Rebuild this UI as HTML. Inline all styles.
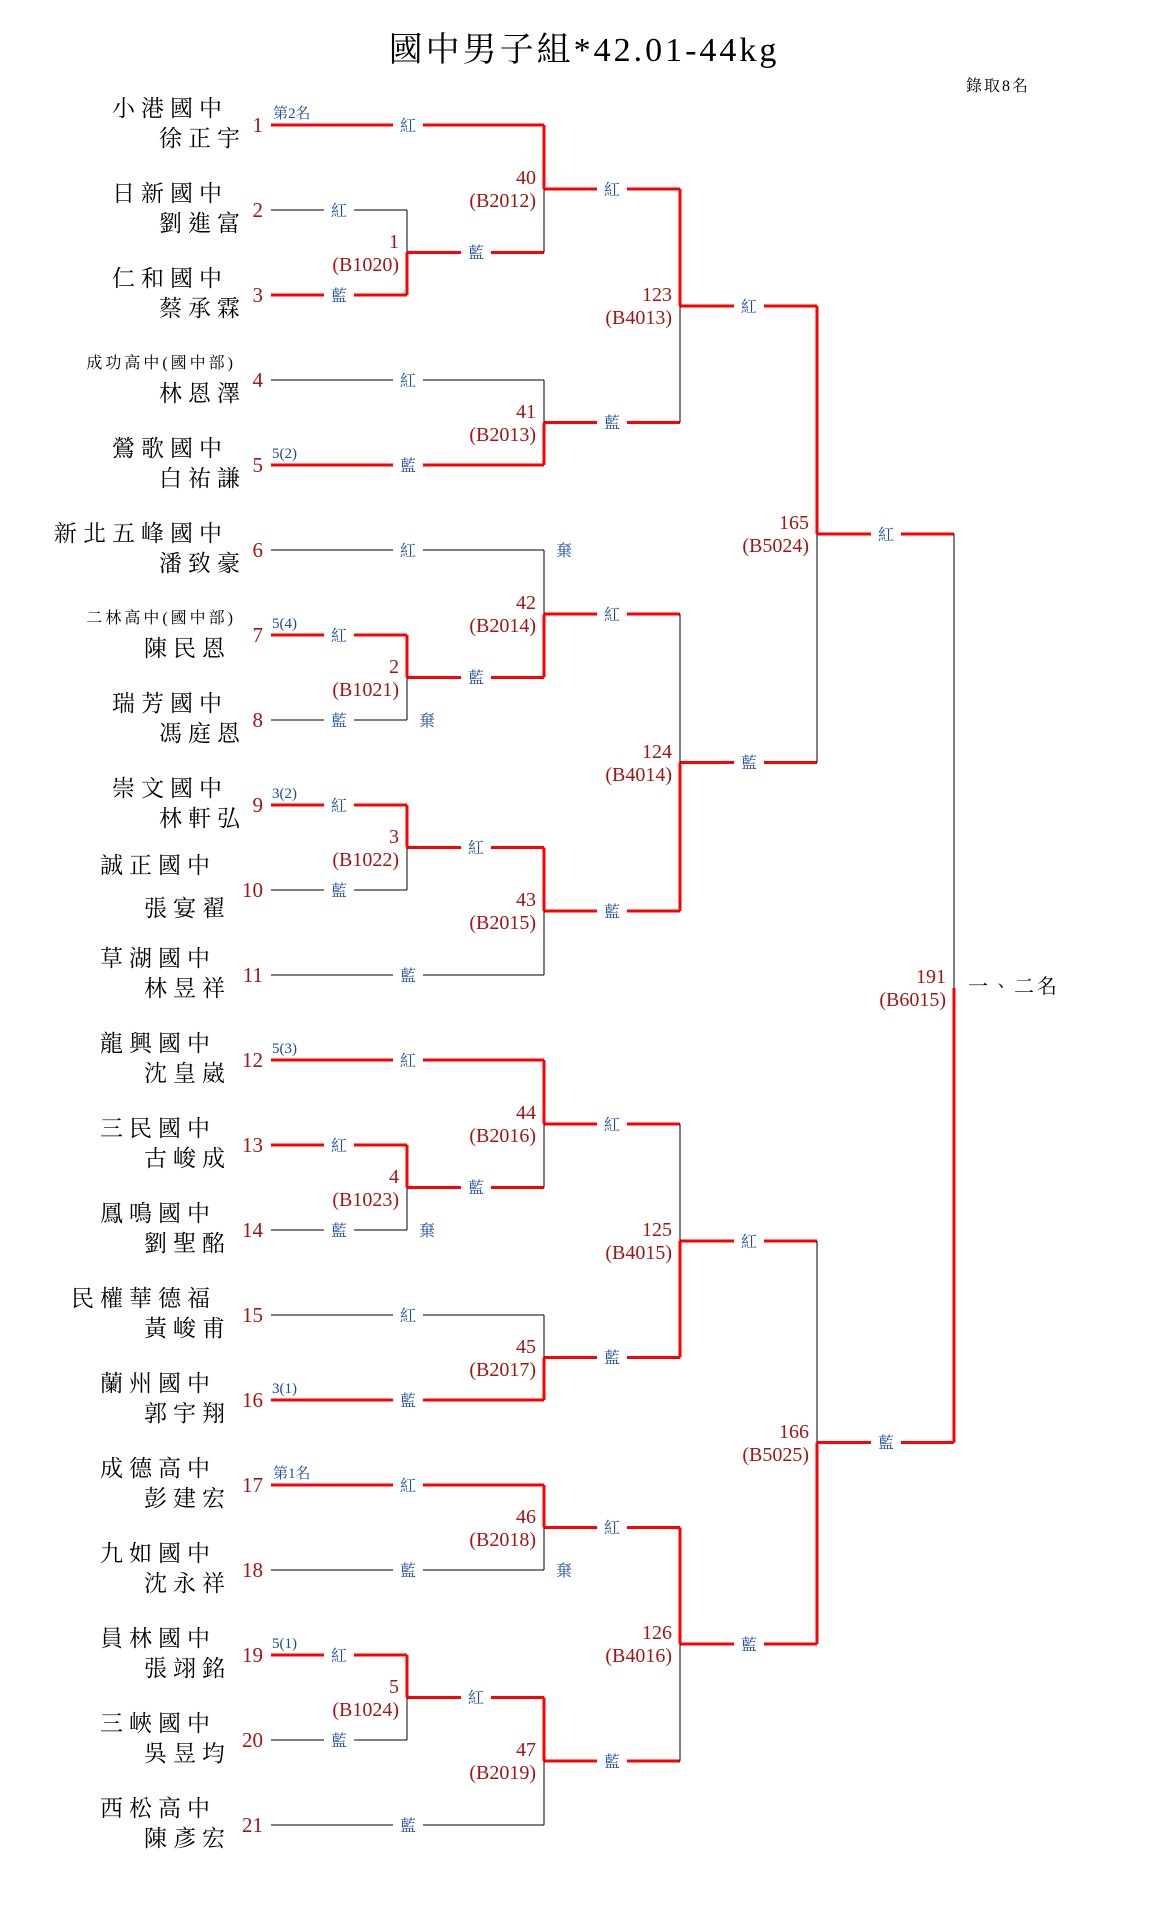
<!DOCTYPE html>
<html><head><meta charset="utf-8"><style>
html,body{margin:0;padding:0;background:#fff;}
svg{display:block;}
.sc{font-family:"Liberation Serif","Noto Serif CJK TC","Noto Serif CJK SC",serif;font-size:23px;letter-spacing:6px;fill:#000;text-anchor:end;}
.ss{font-family:"Liberation Serif","Noto Serif CJK TC","Noto Serif CJK SC",serif;font-size:16px;letter-spacing:3px;fill:#000;text-anchor:end;}
.nm{font-family:"Liberation Serif",serif;font-size:21px;fill:#a31515;text-anchor:end;}
.mn{font-family:"Liberation Serif",serif;font-size:20px;fill:#a31515;text-anchor:end;}
.lb{font-family:"Liberation Serif","Noto Serif CJK TC","Noto Serif CJK SC",serif;font-size:16px;fill:#1a49a8;text-anchor:middle;}
.sd{font-family:"Liberation Serif","Noto Serif CJK TC","Noto Serif CJK SC",serif;font-size:15px;fill:#1a49a8;}
.r{stroke:#ff0000;stroke-width:3;fill:none;}
.k{stroke:#000;stroke-width:1;fill:none;}
</style></head><body>
<svg width="1160" height="1910" viewBox="0 0 1160 1910" xmlns="http://www.w3.org/2000/svg">
<text x="584" y="61" text-anchor="middle" font-family="Liberation Serif,Noto Serif CJK TC,serif" font-size="34" letter-spacing="3" fill="#000">國中男子組*42.01-44kg</text>
<text x="1030" y="91" text-anchor="end" font-family="Liberation Serif,Noto Serif CJK TC,serif" font-size="16" letter-spacing="2" fill="#000">錄取8名</text>

<g>
<line class="r" x1="271" y1="125" x2="544" y2="125"/>
<line class="k" x1="271" y1="210" x2="407" y2="210"/>
<line class="r" x1="271" y1="295" x2="407" y2="295"/>
<line class="k" x1="271" y1="380" x2="544" y2="380"/>
<line class="r" x1="271" y1="465" x2="544" y2="465"/>
<line class="k" x1="271" y1="550" x2="544" y2="550"/>
<line class="r" x1="271" y1="635" x2="407" y2="635"/>
<line class="k" x1="271" y1="720" x2="407" y2="720"/>
<line class="r" x1="271" y1="805" x2="407" y2="805"/>
<line class="k" x1="271" y1="890" x2="407" y2="890"/>
<line class="k" x1="271" y1="975" x2="544" y2="975"/>
<line class="r" x1="271" y1="1060" x2="544" y2="1060"/>
<line class="r" x1="271" y1="1145" x2="407" y2="1145"/>
<line class="k" x1="271" y1="1230" x2="407" y2="1230"/>
<line class="k" x1="271" y1="1315" x2="544" y2="1315"/>
<line class="r" x1="271" y1="1400" x2="544" y2="1400"/>
<line class="r" x1="271" y1="1485" x2="544" y2="1485"/>
<line class="k" x1="271" y1="1570" x2="544" y2="1570"/>
<line class="r" x1="271" y1="1655" x2="407" y2="1655"/>
<line class="k" x1="271" y1="1740" x2="407" y2="1740"/>
<line class="k" x1="271" y1="1825" x2="544" y2="1825"/>
</g>
<g class="r">
<line x1="407" y1="252.5" x2="544" y2="252.5"/>
<line x1="407" y1="677.5" x2="544" y2="677.5"/>
<line x1="407" y1="847.5" x2="544" y2="847.5"/>
<line x1="407" y1="1187.5" x2="544" y2="1187.5"/>
<line x1="407" y1="1697.5" x2="544" y2="1697.5"/>
<line x1="544" y1="189" x2="680" y2="189"/>
<line x1="544" y1="422.5" x2="680" y2="422.5"/>
<line x1="544" y1="614" x2="680" y2="614"/>
<line x1="544" y1="911" x2="680" y2="911"/>
<line x1="544" y1="1124" x2="680" y2="1124"/>
<line x1="544" y1="1357.5" x2="680" y2="1357.5"/>
<line x1="544" y1="1527.5" x2="680" y2="1527.5"/>
<line x1="544" y1="1761" x2="680" y2="1761"/>
<line x1="680" y1="306" x2="817" y2="306"/>
<line x1="680" y1="762.5" x2="817" y2="762.5"/>
<line x1="680" y1="1241" x2="817" y2="1241"/>
<line x1="680" y1="1644" x2="817" y2="1644"/>
<line x1="817" y1="534" x2="954" y2="534"/>
<line x1="817" y1="1442.5" x2="954" y2="1442.5"/>
</g>
<g>
<line class="k" x1="407" y1="210" x2="407" y2="252.5"/><line class="r" x1="407" y1="252.5" x2="407" y2="295"/>
<line class="r" x1="407" y1="635" x2="407" y2="677.5"/><line class="k" x1="407" y1="677.5" x2="407" y2="720"/>
<line class="r" x1="407" y1="805" x2="407" y2="847.5"/><line class="k" x1="407" y1="847.5" x2="407" y2="890"/>
<line class="r" x1="407" y1="1145" x2="407" y2="1187.5"/><line class="k" x1="407" y1="1187.5" x2="407" y2="1230"/>
<line class="r" x1="407" y1="1655" x2="407" y2="1697.5"/><line class="k" x1="407" y1="1697.5" x2="407" y2="1740"/>

<line class="r" x1="544" y1="125" x2="544" y2="189"/><line class="k" x1="544" y1="189" x2="544" y2="252.5"/>
<line class="k" x1="544" y1="380" x2="544" y2="422.5"/><line class="r" x1="544" y1="422.5" x2="544" y2="465"/>
<line class="k" x1="544" y1="550" x2="544" y2="614"/><line class="r" x1="544" y1="614" x2="544" y2="677.5"/>
<line class="r" x1="544" y1="847.5" x2="544" y2="911"/><line class="k" x1="544" y1="911" x2="544" y2="975"/>
<line class="r" x1="544" y1="1060" x2="544" y2="1124"/><line class="k" x1="544" y1="1124" x2="544" y2="1187.5"/>
<line class="k" x1="544" y1="1315" x2="544" y2="1357.5"/><line class="r" x1="544" y1="1357.5" x2="544" y2="1400"/>
<line class="r" x1="544" y1="1485" x2="544" y2="1527.5"/><line class="k" x1="544" y1="1527.5" x2="544" y2="1570"/>
<line class="r" x1="544" y1="1697.5" x2="544" y2="1761"/><line class="k" x1="544" y1="1761" x2="544" y2="1825"/>

<line class="r" x1="680" y1="189" x2="680" y2="306"/><line class="k" x1="680" y1="306" x2="680" y2="422.5"/>
<line class="k" x1="680" y1="614" x2="680" y2="762.5"/><line class="r" x1="680" y1="762.5" x2="680" y2="911"/>
<line class="k" x1="680" y1="1124" x2="680" y2="1241"/><line class="r" x1="680" y1="1241" x2="680" y2="1357.5"/>
<line class="r" x1="680" y1="1527.5" x2="680" y2="1644"/><line class="k" x1="680" y1="1644" x2="680" y2="1761"/>

<line class="r" x1="817" y1="306" x2="817" y2="534"/><line class="k" x1="817" y1="534" x2="817" y2="762.5"/>
<line class="k" x1="817" y1="1241" x2="817" y2="1442.5"/><line class="r" x1="817" y1="1442.5" x2="817" y2="1644"/>

<line class="k" x1="954" y1="534" x2="954" y2="988"/><line class="r" x1="954" y1="988" x2="954" y2="1442.5"/>
</g>

<g fill="#fff">
<rect x="393" y="115" width="30" height="20"/><rect x="324" y="200" width="30" height="20"/><rect x="324" y="285" width="30" height="20"/>
<rect x="461" y="242" width="30" height="20"/><rect x="597" y="179" width="30" height="20"/>
<rect x="393" y="370" width="30" height="20"/><rect x="393" y="455" width="30" height="20"/><rect x="597" y="412" width="30" height="20"/>
<rect x="734" y="296" width="30" height="20"/>
<rect x="393" y="540" width="30" height="20"/><rect x="324" y="625" width="30" height="20"/><rect x="324" y="710" width="30" height="20"/>
<rect x="461" y="667" width="30" height="20"/><rect x="597" y="604" width="30" height="20"/>
<rect x="461" y="837" width="30" height="20"/><rect x="324" y="795" width="30" height="20"/><rect x="324" y="880" width="30" height="20"/>
<rect x="393" y="965" width="30" height="20"/><rect x="597" y="901" width="30" height="20"/><rect x="734" y="752" width="30" height="20"/>
<rect x="393" y="1050" width="30" height="20"/><rect x="324" y="1135" width="30" height="20"/><rect x="324" y="1220" width="30" height="20"/>
<rect x="461" y="1177" width="30" height="20"/><rect x="597" y="1114" width="30" height="20"/>
<rect x="393" y="1305" width="30" height="20"/><rect x="393" y="1390" width="30" height="20"/><rect x="597" y="1347" width="30" height="20"/>
<rect x="734" y="1231" width="30" height="20"/>
<rect x="393" y="1475" width="30" height="20"/><rect x="393" y="1560" width="30" height="20"/><rect x="597" y="1517" width="30" height="20"/>
<rect x="324" y="1645" width="30" height="20"/><rect x="324" y="1730" width="30" height="20"/><rect x="461" y="1687" width="30" height="20"/>
<rect x="393" y="1815" width="30" height="20"/><rect x="597" y="1751" width="30" height="20"/><rect x="734" y="1634" width="30" height="20"/>
<rect x="871" y="524" width="30" height="20"/><rect x="871" y="1432" width="30" height="20"/>
</g>
<g class="lb">
<text x="408" y="131">紅</text><text x="339" y="216">紅</text><text x="339" y="301">藍</text>
<text x="476" y="258">藍</text><text x="612" y="195">紅</text>
<text x="408" y="386">紅</text><text x="408" y="471">藍</text><text x="612" y="428">藍</text>
<text x="749" y="312">紅</text>
<text x="408" y="556">紅</text><text x="339" y="641">紅</text><text x="339" y="726">藍</text>
<text x="476" y="683">藍</text><text x="612" y="620">紅</text>
<text x="476" y="853">紅</text><text x="339" y="811">紅</text><text x="339" y="896">藍</text>
<text x="408" y="981">藍</text><text x="612" y="917">藍</text><text x="749" y="768">藍</text>
<text x="408" y="1066">紅</text><text x="339" y="1151">紅</text><text x="339" y="1236">藍</text>
<text x="476" y="1193">藍</text><text x="612" y="1130">紅</text>
<text x="408" y="1321">紅</text><text x="408" y="1406">藍</text><text x="612" y="1363">藍</text>
<text x="749" y="1247">紅</text>
<text x="408" y="1491">紅</text><text x="408" y="1576">藍</text><text x="612" y="1533">紅</text>
<text x="339" y="1661">紅</text><text x="339" y="1746">藍</text><text x="476" y="1703">紅</text>
<text x="408" y="1831">藍</text><text x="612" y="1767">藍</text><text x="749" y="1650">藍</text>
<text x="886" y="540">紅</text><text x="886" y="1448">藍</text>
<text x="564" y="556">棄</text><text x="427" y="726">棄</text><text x="427" y="1236">棄</text><text x="564" y="1576">棄</text>
</g>

<g class="sd">
<text x="273" y="118">第2名</text><text x="272" y="458">5(2)</text><text x="272" y="628">5(4)</text>
<text x="272" y="798">3(2)</text><text x="272" y="1053">5(3)</text><text x="272" y="1393">3(1)</text>
<text x="273" y="1478">第1名</text><text x="272" y="1648">5(1)</text>
</g>

<g class="mn">
<text x="399" y="248">1</text><text x="399" y="271">(B1020)</text>
<text x="399" y="673">2</text><text x="399" y="696">(B1021)</text>
<text x="399" y="843">3</text><text x="399" y="866">(B1022)</text>
<text x="399" y="1183">4</text><text x="399" y="1206">(B1023)</text>
<text x="399" y="1693">5</text><text x="399" y="1716">(B1024)</text>
<text x="536" y="184">40</text><text x="536" y="207">(B2012)</text>
<text x="536" y="418">41</text><text x="536" y="441">(B2013)</text>
<text x="536" y="609">42</text><text x="536" y="632">(B2014)</text>
<text x="536" y="906">43</text><text x="536" y="929">(B2015)</text>
<text x="536" y="1119">44</text><text x="536" y="1142">(B2016)</text>
<text x="536" y="1353">45</text><text x="536" y="1376">(B2017)</text>
<text x="536" y="1523">46</text><text x="536" y="1546">(B2018)</text>
<text x="536" y="1756">47</text><text x="536" y="1779">(B2019)</text>
<text x="672" y="301">123</text><text x="672" y="324">(B4013)</text>
<text x="672" y="758">124</text><text x="672" y="781">(B4014)</text>
<text x="672" y="1236">125</text><text x="672" y="1259">(B4015)</text>
<text x="672" y="1639">126</text><text x="672" y="1662">(B4016)</text>
<text x="809" y="529">165</text><text x="809" y="552">(B5024)</text>
<text x="809" y="1438">166</text><text x="809" y="1461">(B5025)</text>
<text x="946" y="983">191</text><text x="946" y="1006">(B6015)</text>
</g>
<text x="968" y="1003" font-family="Liberation Serif,Noto Serif CJK TC,serif" font-size="20" letter-spacing="3" fill="#000" dy="-10">一、二名</text>

<g class="nm">
<text x="263" y="132">1</text><text x="263" y="217">2</text><text x="263" y="302">3</text><text x="263" y="387">4</text>
<text x="263" y="472">5</text><text x="263" y="557">6</text><text x="263" y="642">7</text><text x="263" y="727">8</text>
<text x="263" y="812">9</text><text x="263" y="897">10</text><text x="263" y="982">11</text><text x="263" y="1067">12</text>
<text x="263" y="1152">13</text><text x="263" y="1237">14</text><text x="263" y="1322">15</text><text x="263" y="1407">16</text>
<text x="263" y="1492">17</text><text x="263" y="1577">18</text><text x="263" y="1662">19</text><text x="263" y="1747">20</text>
<text x="263" y="1832">21</text>
</g>

<g class="sc">
<text x="228" y="116">小港國中</text><text x="246" y="146">徐正宇</text>
<text x="228" y="201">日新國中</text><text x="246" y="231">劉進富</text>
<text x="228" y="286">仁和國中</text><text x="246" y="316">蔡承霖</text>
<text x="246" y="401">林恩澤</text>
<text x="228" y="456">鶯歌國中</text><text x="246" y="486">白祐謙</text>
<text x="228" y="541">新北五峰國中</text><text x="246" y="571">潘致豪</text>
<text x="231" y="656">陳民恩</text>
<text x="228" y="711">瑞芳國中</text><text x="246" y="741">馮庭恩</text>
<text x="228" y="796">崇文國中</text><text x="246" y="826">林軒弘</text>
<text x="216" y="873">誠正國中</text><text x="231" y="916">張宴翟</text>
<text x="216" y="966">草湖國中</text><text x="231" y="996">林昱祥</text>
<text x="216" y="1051">龍興國中</text><text x="231" y="1081">沈皇崴</text>
<text x="216" y="1136">三民國中</text><text x="231" y="1166">古峻成</text>
<text x="216" y="1221">鳳鳴國中</text><text x="231" y="1251">劉聖酩</text>
<text x="216" y="1306">民權華德福</text><text x="231" y="1336">黃峻甫</text>
<text x="216" y="1391">蘭州國中</text><text x="231" y="1421">郭宇翔</text>
<text x="216" y="1476">成德高中</text><text x="231" y="1506">彭建宏</text>
<text x="216" y="1561">九如國中</text><text x="231" y="1591">沈永祥</text>
<text x="216" y="1646">員林國中</text><text x="231" y="1676">張翊銘</text>
<text x="216" y="1731">三峽國中</text><text x="231" y="1761">吳昱均</text>
<text x="216" y="1816">西松高中</text><text x="231" y="1846">陳彥宏</text>
</g>
<g class="ss">
<text x="236" y="368">成功高中(國中部)</text>
<text x="236" y="623">二林高中(國中部)</text>
</g>
</svg>
</body></html>
